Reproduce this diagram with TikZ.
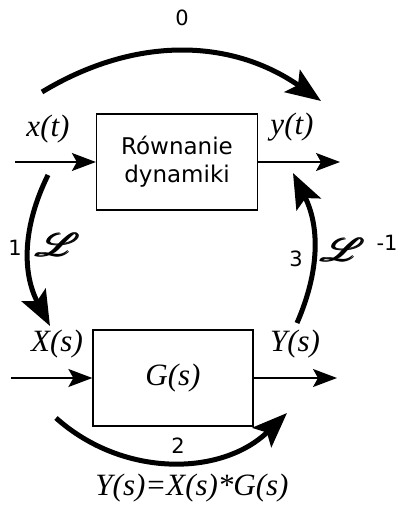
\documentclass[tikz,border=0pt]{standalone}
\usepackage{fontspec}
\usepackage{amsmath}
\usepackage{mathrsfs}
\setmainfont{Liberation Serif}
\setsansfont{DejaVu Sans}
\usetikzlibrary{arrows.meta}

\begin{document}
\begin{tikzpicture}[
    x=1pt, y=-1pt,
    block/.style={draw, line width=1.3pt, font=\fontsize{23}{28}\selectfont\sffamily, align=center},
    sig/.style={line width=1.5pt, -{Stealth[length=24pt, width=18pt, inset=5pt]}},
    step arrow/.style={line width=5pt, -{Stealth[length=35pt, width=27pt, inset=7pt]}},
    varlabel/.style={font=\fontsize{31}{36}\selectfont\itshape, inner sep=0pt},
    stepnum/.style={font=\fontsize{21}{24}\selectfont\sffamily, inner sep=0pt},
    laplace/.style={inner sep=0pt},
]
\useasboundingbox (0,0) rectangle (398,508);

% Time domain block
\node[block, minimum width=161pt, minimum height=96pt] (dyn) at (177,162) {Równanie\\dynamiki};
\coordinate (xin) at (15,162);
\coordinate (yout) at (340,162);
\draw[sig] (xin) -- (dyn);
\draw[sig] (dyn) -- (yout);
\node[varlabel] (xt) at (48,129) {x(t)};
\node[varlabel] (yt) at (292,127) {y(t)};

% Laplace domain block
\node[block, minimum width=160pt, minimum height=96pt, font=\fontsize{31}{36}\selectfont\itshape] (gs) at (173,378) {G(s)};
\coordinate (Xin) at (11,378);
\coordinate (Yout) at (337,378);
\draw[sig] (Xin) -- (gs);
\draw[sig] (gs) -- (Yout);
\node[varlabel] (Xs) at (57,344) {X(s)};
\node[varlabel] (Ys) at (295,344) {Y(s)};

% Steps
\coordinate (s0a) at (42,92);
\coordinate (s0b) at (321,101);
\draw[step arrow] (s0a) to[bend left=33] (s0b);
\node[stepnum] (n0) at (182,18) {0};

\coordinate (s1a) at (48,175);
\coordinate (s1b) at (50,326);
\draw[step arrow] (s1a) to[bend right=27] (s1b);
\node[stepnum] (n1) at (15,248) {1};
\node[laplace] (L1) at (58,245) {\scalebox{4.2}[3.2]{$\pmb{\mathscr{L}}$}};

\coordinate (s2a) at (56,418);
\coordinate (s2b) at (287,413);
\draw[step arrow] (s2a) to[bend right=43] (s2b);
\node[stepnum] (n2) at (178,446) {2};

\coordinate (s3a) at (297,323);
\coordinate (s3b) at (293,173);
\draw[step arrow] (s3a) to[bend right=25] (s3b);
\node[stepnum] (n3) at (296,259) {3};
\node[laplace] (L3) at (343,250) {\scalebox{4.2}[3.2]{$\pmb{\mathscr{L}}$}};
\node[stepnum] (inv) at (387,243) {-1};

\node[varlabel] (eq) at (192,488) {Y(s)=X(s)*G(s)};

\end{tikzpicture}
\end{document}
